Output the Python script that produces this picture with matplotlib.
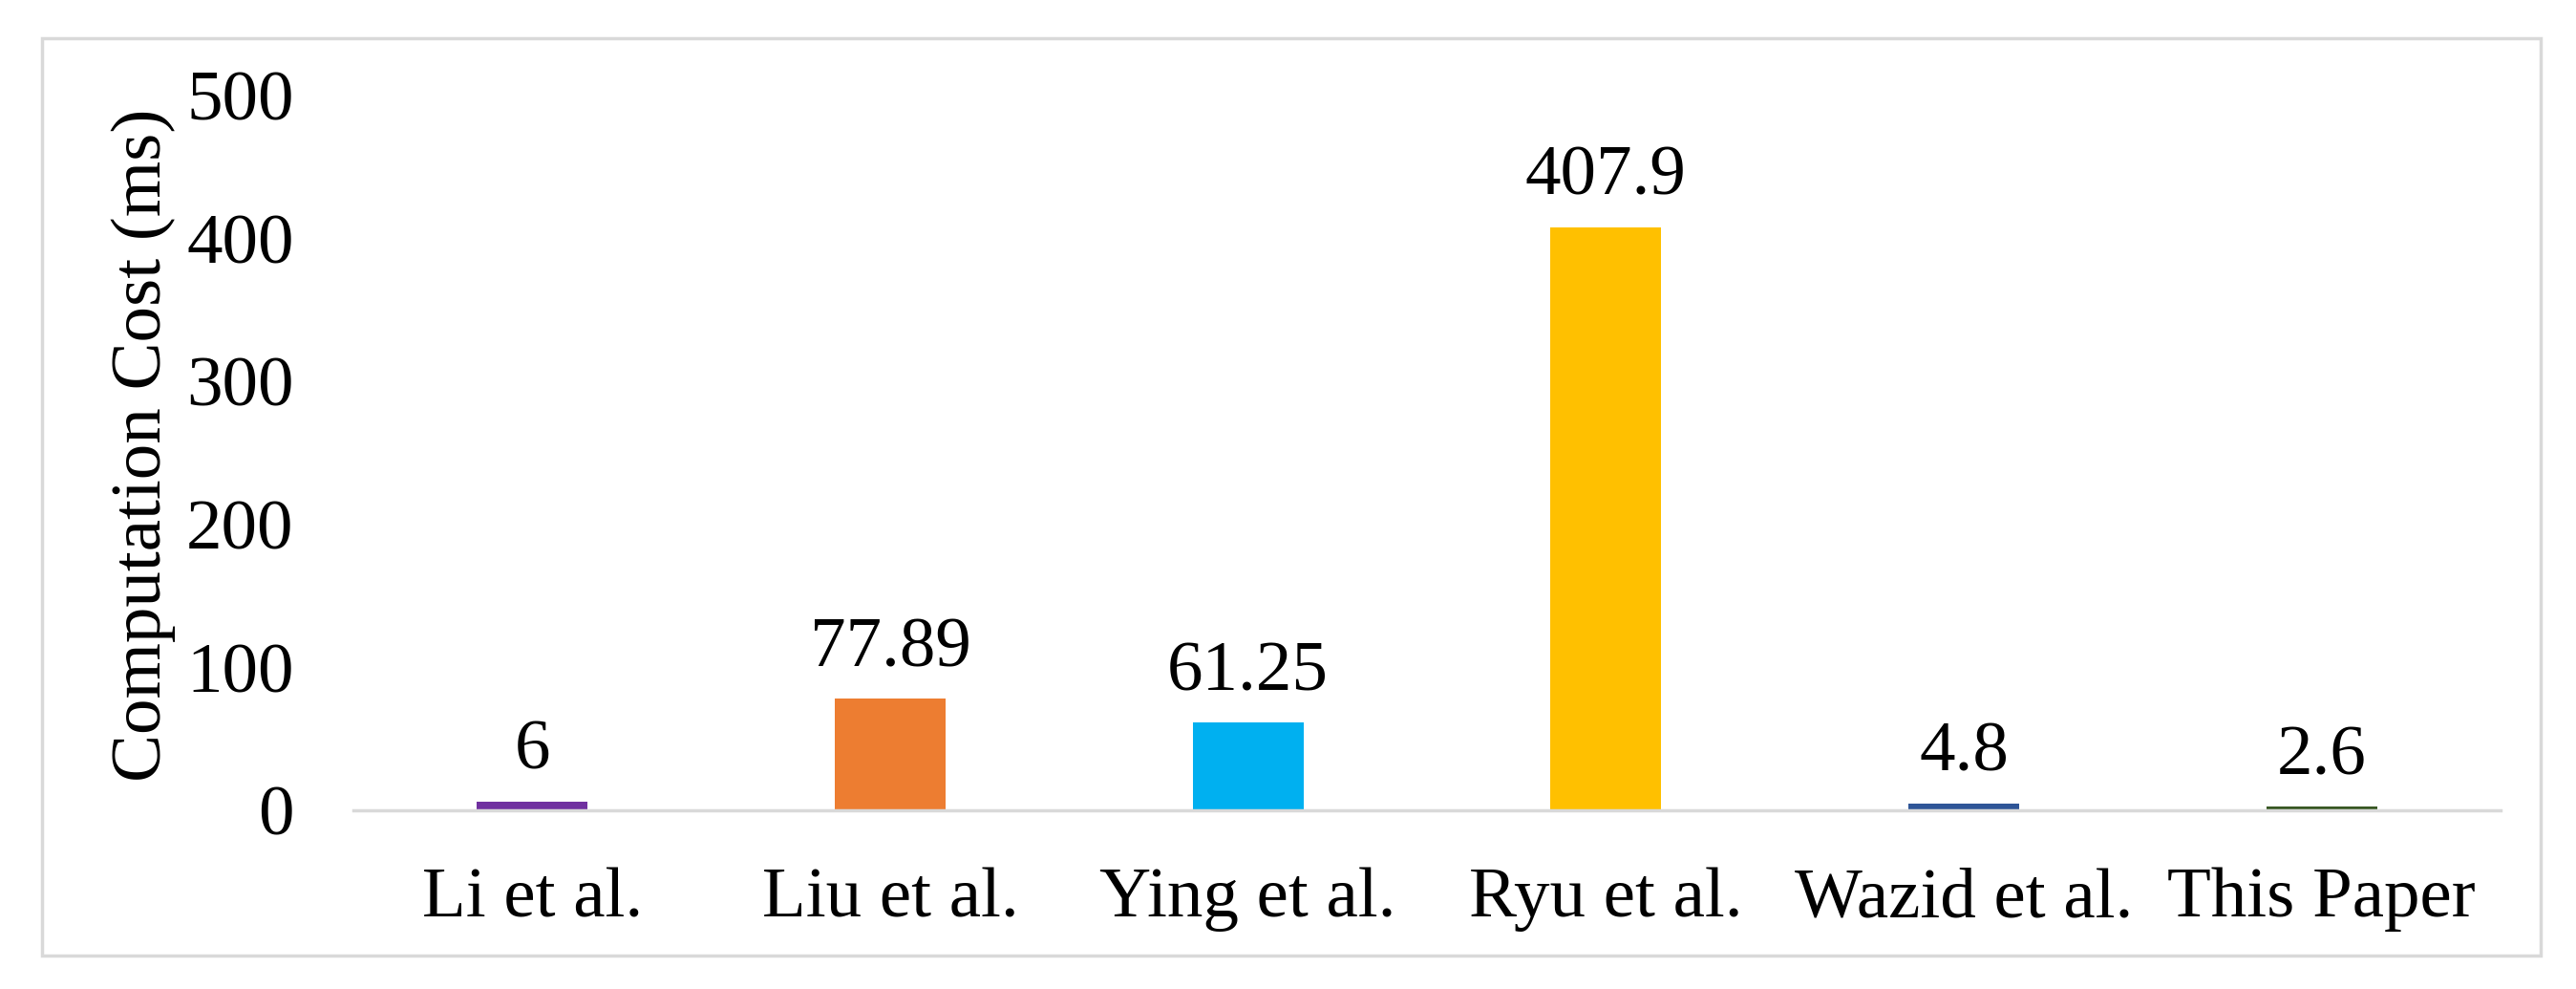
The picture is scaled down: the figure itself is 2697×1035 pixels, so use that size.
import matplotlib.pyplot as plt
from matplotlib.patches import Rectangle

plt.rcParams['font.family'] = ['Liberation Serif', 'DejaVu Serif']

schemes = ["Li et al.", "Liu et al.", "Ying et al.", "Ryu et al.", "Wazid et al.", "This Paper"]
costs = [6, 77.89, 61.25, 407.9, 4.8, 2.6]
labels = ["6", "77.89", "61.25", "407.9", "4.8", "2.6"]
colors = ["#7030A0", "#ED7D31", "#00B0F0", "#FFC000", "#2F5597", "#385723"]

fs = 54

fig = plt.figure(figsize=(26.97, 10.35), dpi=100)
ax = fig.add_axes([0.1372, 0.1807, 0.8335, 0.7227])

x = range(len(schemes))
bars = ax.bar(x, costs, width=0.31, color=colors)
for b, lab in zip(bars, labels):
    ax.annotate(lab, (b.get_x() + b.get_width() / 2, b.get_height()),
                xytext=(0, 24.5), textcoords="offset points",
                ha="center", va="baseline", fontsize=fs)

ax.set_xlim(-0.5, len(schemes) - 0.5)
ax.set_ylim(0, 500)
ax.set_yticks([0, 100, 200, 300, 400, 500])
ax.set_xticks(list(x))
ax.set_xticklabels(schemes)
ax.tick_params(axis="both", length=0, labelsize=fs)
ax.tick_params(axis="x", pad=43)
ax.tick_params(axis="y", pad=45)
ax.set_ylabel("Computation Cost (ms)", fontsize=fs)
ax.yaxis.set_label_coords(-0.0827, 0.511)

for s in ["top", "right", "left"]:
    ax.spines[s].set_visible(False)
ax.spines["bottom"].set_color("#D9D9D9")
ax.spines["bottom"].set_linewidth(2.5)

# outer chart border
fig.patches.append(Rectangle((0.0163, 0.0338), 0.97, 0.9276, transform=fig.transFigure,
                             fill=False, edgecolor="#D9D9D9", linewidth=2.5))

fig.savefig("out.png", dpi=100)
